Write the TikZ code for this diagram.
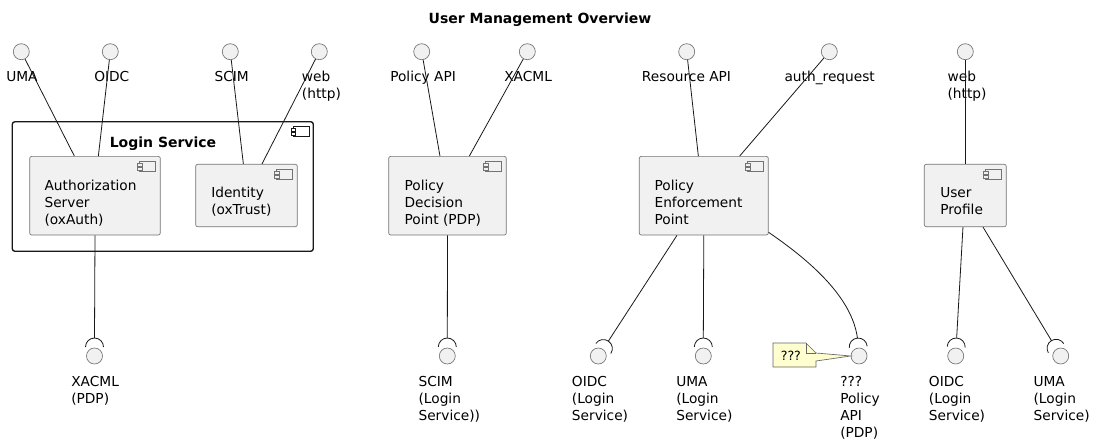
\documentclass[tikz,border=0pt]{standalone}
\usepackage{fontspec}
\setmainfont{DejaVu Sans}
\usetikzlibrary{calc}
\definecolor{compfill}{HTML}{F1F1F1}
\definecolor{linecol}{HTML}{181818}
\definecolor{notefill}{HTML}{FEFECE}
\tikzset{comp/.style={draw=black!55, fill=compfill, rounded corners=1.5pt, line width=0.5pt, inner sep=0},
    pkg/.style={draw=linecol, fill=white, rounded corners=2pt, line width=1pt, inner sep=0},
    iface/.style={circle, draw=black!55, fill=compfill, minimum size=12pt, inner sep=0, line width=0.5pt},
    % multi-line texts: placed at the baseline of their last line
    txt/.style={font=\fontsize{10.3}{12.75}\selectfont, align=left, inner sep=0, anchor=base west},
    titletxt/.style={font=\fontsize{10.5}{12.75}\selectfont\bfseries, inner sep=0, anchor=base},
    notetxt/.style={font=\fontsize{9.5}{11}\selectfont, inner sep=0, anchor=base west},
    conn/.style={draw=linecol, line width=0.6pt},
    notebox/.style={draw=black!60, fill=notefill, line width=0.5pt},
    compicon/.pic={
        \filldraw[line width=0.4pt] (-21,5.5) rectangle (-5,15.5);
        \filldraw[line width=0.4pt] (-23,7.5) rectangle (-18.5,10);
        \filldraw[line width=0.4pt] (-23,11.5) rectangle (-18.5,14);
    },
    }
% socket: half ring pointing at the connector, tip named <node>s
\newcommand{\socket}[2]{%
    \coordinate (#1s) at ($(#1)+(#2:13.5pt)$);
    \draw[conn] ($(#1)+(#2:6.75pt)+({#2-90}:6.75pt)$) arc[start angle={#2-90}, end angle={#2+90}, radius=6.75pt];}

\begin{document}
\begin{tikzpicture}[x=0.75pt,y=-0.75pt]
	\useasboundingbox (0,0) rectangle (1094,442);
	\node[titletxt] (title) at (540,23.3) {User Management Overview};

	% Login Service package
	\node[pkg, minimum width=225.75pt, minimum height=97.2pt] (login) at (162.8,186.5) {};
	\pic[color=linecol, fill=white] at (login.north east) {compicon};
	\node[titletxt] (logintitle) at (163,147.7) {Login Service};
	\node[comp, minimum width=97.95pt, minimum height=59pt] (authz) at (95,195.7) {};
	\pic[color=black!55, fill=compfill] at (authz.north east) {compicon};
	\node[txt] (authztext) at (44.3,224) {Authorization\\Server\\(oxAuth)};
	\node[comp, minimum width=76.2pt, minimum height=46.8pt] (ident) at (246.5,195.5) {};
	\pic[color=black!55, fill=compfill] at (ident.north east) {compicon};
	\node[txt] (identtext) at (211,214.3) {Identity\\(oxTrust)};

	% PDP, PEP, user profile
	\node[comp, minimum width=88.2pt, minimum height=59pt] (pdp) at (447.5,195.7) {};
	\pic[color=black!55, fill=compfill] at (pdp.north east) {compicon};
	\node[txt] (pdptext) at (404.3,224) {Policy\\Decision\\Point (PDP)};
	\node[comp, minimum width=96.75pt, minimum height=59pt] (pep) at (703.8,195.7) {};
	\pic[color=black!55, fill=compfill] at (pep.north east) {compicon};
	\node[txt] (peptext) at (654.3,224) {Policy\\Enforcement\\Point};
	\node[comp, minimum width=61.5pt, minimum height=46.8pt] (uprof) at (965.3,195.5) {};
	\pic[color=black!55, fill=compfill] at (uprof.north east) {compicon};
	\node[txt] (uproftext) at (940,214.3) {User\\Profile};

	% provided interfaces
	\node[iface] (uma) at (21.3,51.7) {};
	\node[txt] (umal) at (6,81.5) {UMA};
	\node[iface] (oidc) at (110.3,51.7) {};
	\node[txt] (oidcl) at (94,81.5) {OIDC};
	\node[iface] (scim) at (230.3,51.7) {};
	\node[txt] (sciml) at (214.3,81.5) {SCIM};
	\node[iface] (web) at (319.3,51.7) {};
	\node[txt] (webl) at (301.7,98.5) {web\\(http)};
	\node[iface] (papi) at (421.7,51.7) {};
	\node[txt] (papil) at (390,81.5) {Policy API};
	\node[iface] (xacml) at (527.3,51.7) {};
	\node[txt] (xacmll) at (504,81.5) {XACML};
	\node[iface] (rapi) at (686.7,51.7) {};
	\node[txt] (rapil) at (641.7,81.5) {Resource API};
	\node[iface] (authreq) at (829.3,51.7) {};
	\node[txt] (authreql) at (784.3,81.5) {auth\_request};
	\node[iface] (upweb) at (965.3,51.7) {};
	\node[txt] (upwebl) at (947.3,98.5) {web\\(http)};

	% required interfaces
	\node[iface] (xacmlpdp) at (94.5,356) {};
	\node[txt] (xacmlpdpl) at (71,403.7) {XACML\\(PDP)};
	\node[iface] (scimls) at (447.3,356) {};
	\node[txt] (scimlsl) at (418.3,420.7) {SCIM\\(Login\\Service))};
	\node[iface] (oidcpep) at (598.3,356) {};
	\node[txt] (oidcpepl) at (571.7,420.7) {OIDC\\(Login\\Service)};
	\node[iface] (umapep) at (703.3,356) {};
	\node[txt] (umapepl) at (676,420.7) {UMA\\(Login\\Service)};
	\node[iface] (pap) at (859,356) {};
	\node[txt] (papl) at (840,437.7) {???\\Policy\\API\\(PDP)};
	\node[iface] (oidcup) at (955.7,356) {};
	\node[txt] (oidcupl) at (928.7,420.7) {OIDC\\(Login\\Service)};
	\node[iface] (umaup) at (1060.7,356) {};
	\node[txt] (umaupl) at (1033.3,420.7) {UMA\\(Login\\Service)};

	\socket{xacmlpdp}{90}
	\socket{scimls}{90}
	\socket{oidcpep}{56}
	\socket{umapep}{90}
	\socket{pap}{95}
	\socket{oidcup}{87}
	\socket{umaup}{121}

	% connectors
	\draw[conn] (uma) -- ($(authz.north west)+(45,0)$);
	\draw[conn] (oidc) -- ($(authz.north west)+(69,0)$);
	\draw[conn] (scim) -- ($(ident.north west)+(48,0)$);
	\draw[conn] (web) -- ($(ident.north west)+(66.6,0)$);
	\draw[conn] (papi) -- ($(pdp.north west)+(51.6,0)$);
	\draw[conn] (xacml) -- ($(pdp.north west)+(81,0)$);
	\draw[conn] (rapi) -- ($(pep.north west)+(59.4,0)$);
	\draw[conn] (authreq) -- ($(pep.north west)+(100.7,0)$);
	\draw[conn] (upweb) -- (uprof.north);
	\draw[conn] (authz.south) -- (xacmlpdps);
	\draw[conn] (pdp.south) -- (scimlss);
	\draw[conn] ($(pep.south west)+(38,0)$) -- (oidcpeps);
	\draw[conn] (pep.south) -- (umapeps);
	\draw[conn] ($(pep.south east)+(0,-3)$) .. controls (812,262) and (852,298) .. (paps);
	\draw[conn] ($(uprof.south west)+(39,0)$) -- (oidcups);
	\draw[conn] ($(uprof.south west)+(59,0)$) -- (umaups);

	% note on the PDP policy api
	\draw[notebox] (773,343) -- (806,343) -- (816,353) -- (pap.west) -- (816,361) -- (816,367) -- (773,367) -- cycle;
	\draw[notebox, fill=none] (806,343) -- (806,353) -- (816,353);
	\node[notetxt] (notetext) at (780.5,360.7) {???};
\end{tikzpicture}
\end{document}
